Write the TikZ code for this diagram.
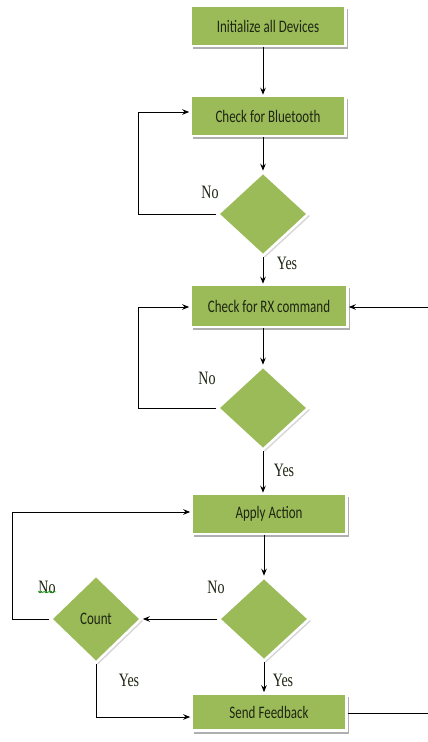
\documentclass[tikz,border=0pt]{standalone}
\usepackage{fontspec}
\usepackage{graphicx}
\setmainfont{Liberation Serif}
\newfontfamily\boxfont{Carlito}
\usetikzlibrary{shapes.geometric,shadows,arrows.meta,decorations.pathmorphing}
\definecolor{boxgreen}{HTML}{9BBB59}
\definecolor{txtdark}{HTML}{1E2512}
\newcommand{\vstretch}[1]{\scalebox{1}[1.35]{#1}}
\tikzset{
  procbox/.style={rectangle, fill=boxgreen, draw=white, line width=2.5pt,
    minimum width=155pt, minimum height=40pt, inner sep=0pt,
    font=\boxfont\fontsize{13}{15}\selectfont, text=txtdark,
    drop shadow={shadow xshift=2.5pt, shadow yshift=-3pt, fill=gray!70, opacity=0.9}},
  decision/.style={diamond, fill=boxgreen, draw=white, line width=2.5pt,
    minimum width=91pt, minimum height=84pt, inner sep=0pt, aspect=1.1,
    font=\boxfont\fontsize{13}{15}\selectfont, text=txtdark,
    drop shadow={shadow xshift=2pt, shadow yshift=-2pt, fill=gray!35, opacity=0.9}},
  lbl/.style={font=\fontsize{14}{16}\selectfont, text=txtdark, inner sep=0pt},
  flow/.style={draw=black, line width=1pt},
  arr/.style={flow, -{Stealth[length=7pt,width=5.5pt]}}
}
\begin{document}
\begin{tikzpicture}[x=1pt,y=-1pt]
\useasboundingbox (0,0) rectangle (428,742);

% process boxes
\node[procbox] (b1) at (268,26) {\vstretch{Initialize all Devices}};
\node[procbox] (b2) at (268,116) {\vstretch{Check for Bluetooth}};
\node[procbox, minimum width=157pt, minimum height=42pt] (b3) at (269,306) {\vstretch{Check for RX command}};
\node[procbox] (b4) at (269,514) {\vstretch{Apply Action}};
\node[procbox, minimum height=37pt] (b5) at (269,712) {\vstretch{Send Feedback}};

% decisions
\node[decision] (d1) at (263,214) {};
\node[decision] (d2) at (263,408) {};
\node[decision] (d3) at (264,619) {};
\node[decision, minimum height=88pt] (cnt) at (96,619) {\vstretch{Count}};

% helper coordinates
\coordinate (L1) at (138,112);
\coordinate (L2) at (138,307);
\coordinate (L3) at (12,512);
\coordinate (R1) at (428,307);
\coordinate (R2) at (428,713);
\coordinate (C1) at (96,717);

% connectors
\draw[arr] (b1.south -| d1) -- (b2.north -| d1);
\draw[arr] (b2.south -| d1) -- (d1.north);
\draw[arr] (d1.west) -| (L1) -- (L1 -| b2.west);
\draw[arr] (d1.south) -- (b3.north -| d1);
\draw[arr] (R1) -- (R1 -| b3.east);
\draw[arr] (b3.south -| d2) -- (d2.north);
\draw[arr] (d2.west) -| (L2) -- (L2 -| b3.west);
\draw[arr] (d2.south) -- (b4.north -| d2);
\draw[arr] (b4.south -| d3) -- (d3.north);
\draw[arr] (d3.west) -- (cnt.east);
\draw[arr] (cnt.west) -| (L3) -- (L3 -| b4.west);
\draw[arr] (d3.south) -- (b5.north -| d3);
\draw[arr] (cnt.south) -- (C1) -- (C1 -| b5.west);
\draw[flow] (R2 -| b5.east) -- (R2);

% labels
\node[lbl] (n1) at (210,192) {\vstretch{No}};
\node[lbl] (y1) at (287,263) {\vstretch{Yes}};
\node[lbl] (n2) at (207,378) {\vstretch{No}};
\node[lbl] (y2) at (284,470) {\vstretch{Yes}};
\node[lbl] (n3) at (216,587) {\vstretch{No}};
\node[lbl] (n4) at (47,587) {\vstretch{No}};
\node[lbl] (y3) at (129,680) {\vstretch{Yes}};
\node[lbl] (y4) at (283,680) {\vstretch{Yes}};
\draw[green!60!black, line width=0.5pt, decorate,
  decoration={snake, amplitude=0.7pt, segment length=2.5pt}]
  ([yshift=1.5pt]n4.south west) -- ([yshift=1.5pt]n4.south east);
\end{tikzpicture}
\end{document}
